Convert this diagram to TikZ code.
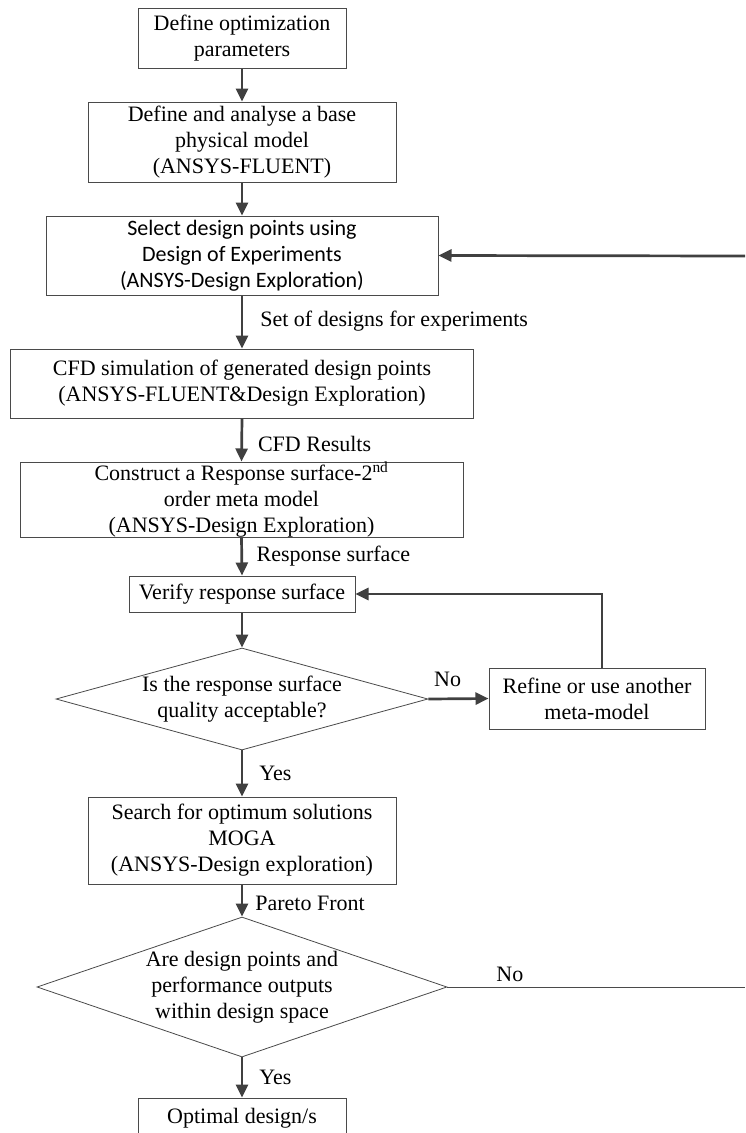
\documentclass[tikz,border=0pt]{standalone}
\usepackage{fontspec}
\setmainfont{Liberation Serif}
\newfontfamily\calib{Carlito}
\usetikzlibrary{arrows.meta,shapes.geometric}
\definecolor{ln}{HTML}{404040}
\definecolor{bd}{HTML}{4A4A4A}
\begin{document}
\begin{tikzpicture}[x=1pt,y=1pt,
  txt/.style={font=\fontsize{22}{26}\selectfont},
  box/.style={draw=bd,line width=1pt,align=center,inner sep=0pt,txt},
  dec/.style={draw=bd,line width=0.8pt,diamond,align=center,inner sep=0pt,txt},
  arr/.style={draw=ln,line width=2.7pt,-{Triangle[length=13pt,width=12pt]}},
  thinln/.style={draw=bd,line width=0.9pt},
  lab/.style={txt,anchor=west,inner sep=0pt}]
\useasboundingbox (0,0) rectangle (745,-1133);
\fill[white] (0,0) rectangle (745,-1133);

\node[box,minimum width=208pt,minimum height=60pt] (b1) at (242,-38) {Define optimization\\parameters};
\node[box,minimum width=308pt,minimum height=80pt] (b2) at (242,-142) {Define and analyse a base\\physical model\\(ANSYS-FLUENT)};
\node[box,minimum width=392pt,minimum height=79pt,font=\calib\fontsize{22}{26}\selectfont] (b3) at (242,-255.5) {Select design points using\\Design of Experiments\\(ANSYS-Design Exploration)};
\node[box,minimum width=463pt,minimum height=69pt] (b4) at (242,-383.5) {CFD simulation of generated design points\\(ANSYS-FLUENT\&Design Exploration)};
\node[box,minimum width=443pt,minimum height=75pt] (b5) at (241.5,-499.5) {Construct a Response surface-2\textsuperscript{nd}\\order meta model\\(ANSYS-Design Exploration)};
\node[box,minimum width=226pt,minimum height=36pt] (b6) at (242,-594) {Verify response surface};
\node[dec,aspect=3.65,minimum width=372pt,minimum height=102pt] (d1) at (242,-699) {Is the response surface\\quality acceptable?};
\node[box,minimum width=216pt,minimum height=61pt] (rf) at (597,-698.5) {Refine or use another\\meta-model};
\node[box,minimum width=308pt,minimum height=87pt] (b7) at (242,-840.5) {Search for optimum solutions\\MOGA\\(ANSYS-Design exploration)};
\node[dec,aspect=2.93,minimum width=410pt,minimum height=140pt] (d2) at (242,-987) {Are design points and\\performance outputs\\within design space};
\node[box,minimum width=208pt,minimum height=40pt] (b8) at (242,-1118) {Optimal design/s};

\coordinate (e1) at (745,-256);
\coordinate (e2) at (745,-987);

\draw[arr] (b1.south) -- (b2.north);
\draw[arr] (b2.south) -- (b3.north);
\draw[arr] (b3.south) -- node[lab,pos=0.48,xshift=17pt] {Set of designs for experiments} (b4.north);
\draw[arr] (b4.south) -- node[lab,pos=0.6,xshift=15pt] {CFD Results} (b5.north);
\draw[arr] (b5.south) -- node[lab,pos=0.5,xshift=13.6pt] {Response surface} (b6.north);
\draw[arr] (b6.south) -- (d1.north);
\draw[arr] (d1.east) -- node[txt,inner sep=0pt,anchor=south,pos=0.32,yshift=11pt] {No} (rf.west);
\draw[arr] ([xshift=5pt]rf.north) |- (b6.east);
\draw[arr] (d1.south) -- node[lab,pos=0.5,xshift=16pt] {Yes} (b7.north);
\draw[arr] (b7.south) -- node[lab,pos=0.58,xshift=12pt] {Pareto Front} (d2.north);
\draw[thinln] (d2.east) -- node[txt,inner sep=0pt,anchor=south,pos=0.21,yshift=5pt] {No} (e2);
\draw[arr] (e1) -- (b3.east);
\draw[arr] (d2.south) -- node[lab,pos=0.5,xshift=16pt] {Yes} (b8.north);
\end{tikzpicture}
\end{document}
